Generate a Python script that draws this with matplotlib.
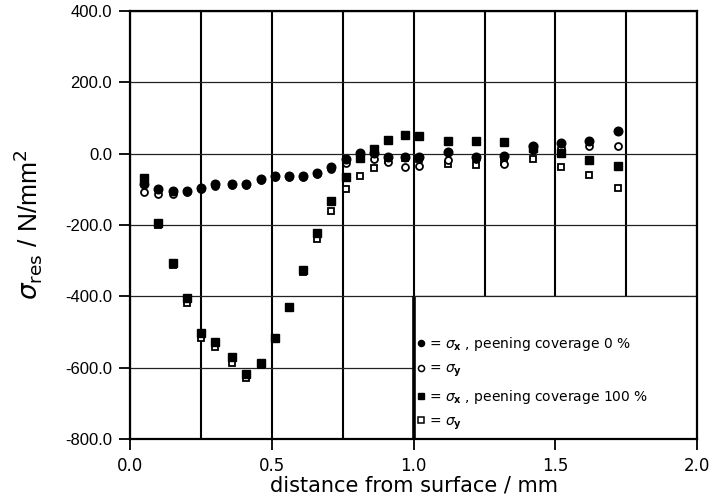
import matplotlib
matplotlib.use("Agg")
import matplotlib.pyplot as plt
from matplotlib.lines import Line2D
from matplotlib.patches import Rectangle
from matplotlib.ticker import MultipleLocator, FormatStrFormatter

# ---- data ----
depth = [0.05, 0.10, 0.15, 0.20, 0.25, 0.30, 0.36, 0.41, 0.46, 0.51, 0.56, 0.61,
         0.66, 0.71, 0.76, 0.81, 0.86, 0.91, 0.97, 1.02, 1.12, 1.22, 1.32, 1.42,
         1.52, 1.62, 1.72]
sx_0 = [-85, -99, -104, -104, -97, -86, -86, -86, -72, -63, -63, -63, -53, -38,
        -16, 1, 2, -8, -8, -8, 5, -8, -5, 22, 29, 37, 64]
sy_0 = [-107, -113, -113, -106, -100, -90, -89, -89, -75, -66, -66, -66, -56, -42,
        -27, -8, -16, -22, -36, -34, -17, -15, -30, 10, 15, 22, 22]
sx_100 = [-68, -194, -306, -405, -502, -527, -569, -618, -586, -517, -429, -326,
          -222, -133, -64, -13, 13, 38, 52, 50, 37, 37, 32, 16, 1, -18, -34]
sy_100 = [-80, -200, -312, -418, -517, -543, -586, -628, -592, -520, -432, -332,
          -238, -160, -100, -63, -41, -18, -12, -15, -30, -32, -22, -15, -38, -60, -95]

legend_labels = [r"= $\sigma_{\mathbf{x}}$ , peening coverage 0 %",
                 r"= $\sigma_{\mathbf{y}}$",
                 r"= $\sigma_{\mathbf{x}}$ , peening coverage 100 %",
                 r"= $\sigma_{\mathbf{y}}$"]

x_label = "distance from surface / mm"
y_label = r"$\sigma_{\rm res}$ / N/mm$^2$"

# ---- figure ----
fig = plt.figure(figsize=(7.15, 5.04), dpi=100)
ax = fig.add_axes([0.182, 0.129, 0.975 - 0.182, 0.978 - 0.129])

ax.set_xlim(0.0, 2.0)
ax.set_ylim(-800, 400)

ax.xaxis.set_major_locator(MultipleLocator(0.5))
ax.xaxis.set_minor_locator(MultipleLocator(0.25))
ax.yaxis.set_major_locator(MultipleLocator(200))
ax.xaxis.set_major_formatter(FormatStrFormatter("%.1f"))
ax.yaxis.set_major_formatter(FormatStrFormatter("%.1f"))

ax.xaxis.grid(True, which="both", color="black", lw=1.5, zorder=0)
ax.yaxis.grid(True, which="major", color="#222222", lw=0.9, zorder=0)
ax.set_axisbelow(True)

ax.tick_params(axis="both", which="major", direction="out", length=8, width=1.3,
               color="black")
ax.tick_params(axis="x", which="minor", length=0)
ax.tick_params(axis="x", which="major", pad=5, labelsize=12)
ax.tick_params(axis="y", which="major", pad=5, labelsize=12)
for lab in ax.get_yticklabels():
    lab.set_family("Liberation Sans")

for s in ax.spines.values():
    s.set_linewidth(1.6)
    s.set_color("black")

# legend box (white area lower-right, thick left edge)
ax.add_patch(Rectangle((0.5, 0.0), 0.5, 1 / 3, transform=ax.transAxes,
                       facecolor="white", edgecolor="none", zorder=1.5))
ax.plot([0.5, 0.5], [0.0, 1 / 3], transform=ax.transAxes, color="black",
        lw=2.6, zorder=1.6, solid_capstyle="butt")
ax.plot([0.5, 1.0], [1 / 3, 1 / 3], transform=ax.transAxes, color="#222222",
        lw=0.9, zorder=1.6)

ms_f = 5.6
ms_o = 5.0
ax.plot(depth, sy_100, ls="none", marker="s", ms=ms_o, mfc="white", mec="black",
        mew=1.3, zorder=3)
ax.plot(depth, sy_0, ls="none", marker="o", ms=ms_o, mfc="white", mec="black",
        mew=1.3, zorder=3)
ax.plot(depth, sx_100, ls="none", marker="s", ms=ms_f, color="black", zorder=4)
ax.plot(depth, sx_0, ls="none", marker="o", ms=ms_f + 0.6, color="black", zorder=5)

handles = [
    Line2D([], [], ls="none", marker="o", ms=4.4, color="black"),
    Line2D([], [], ls="none", marker="o", ms=4.4, mfc="white", mec="black", mew=1.1),
    Line2D([], [], ls="none", marker="s", ms=4.4, color="black"),
    Line2D([], [], ls="none", marker="s", ms=4.4, mfc="white", mec="black", mew=1.1),
]
leg = ax.legend(handles, legend_labels, loc="upper left",
                bbox_to_anchor=(0.505, 0.243), frameon=False, fontsize=10,
                handlelength=0.6, handletextpad=0.3, labelspacing=0.62,
                borderpad=0.0, borderaxespad=0.0)
leg.set_zorder(6)

ax.set_xlabel(x_label, fontsize=15)
ax.xaxis.set_label_coords(0.5, -0.085)
ax.set_ylabel(y_label, fontsize=19, family="Liberation Sans")
ax.yaxis.set_label_coords(-0.152, 0.5)

fig.savefig("out.png", dpi=100)
